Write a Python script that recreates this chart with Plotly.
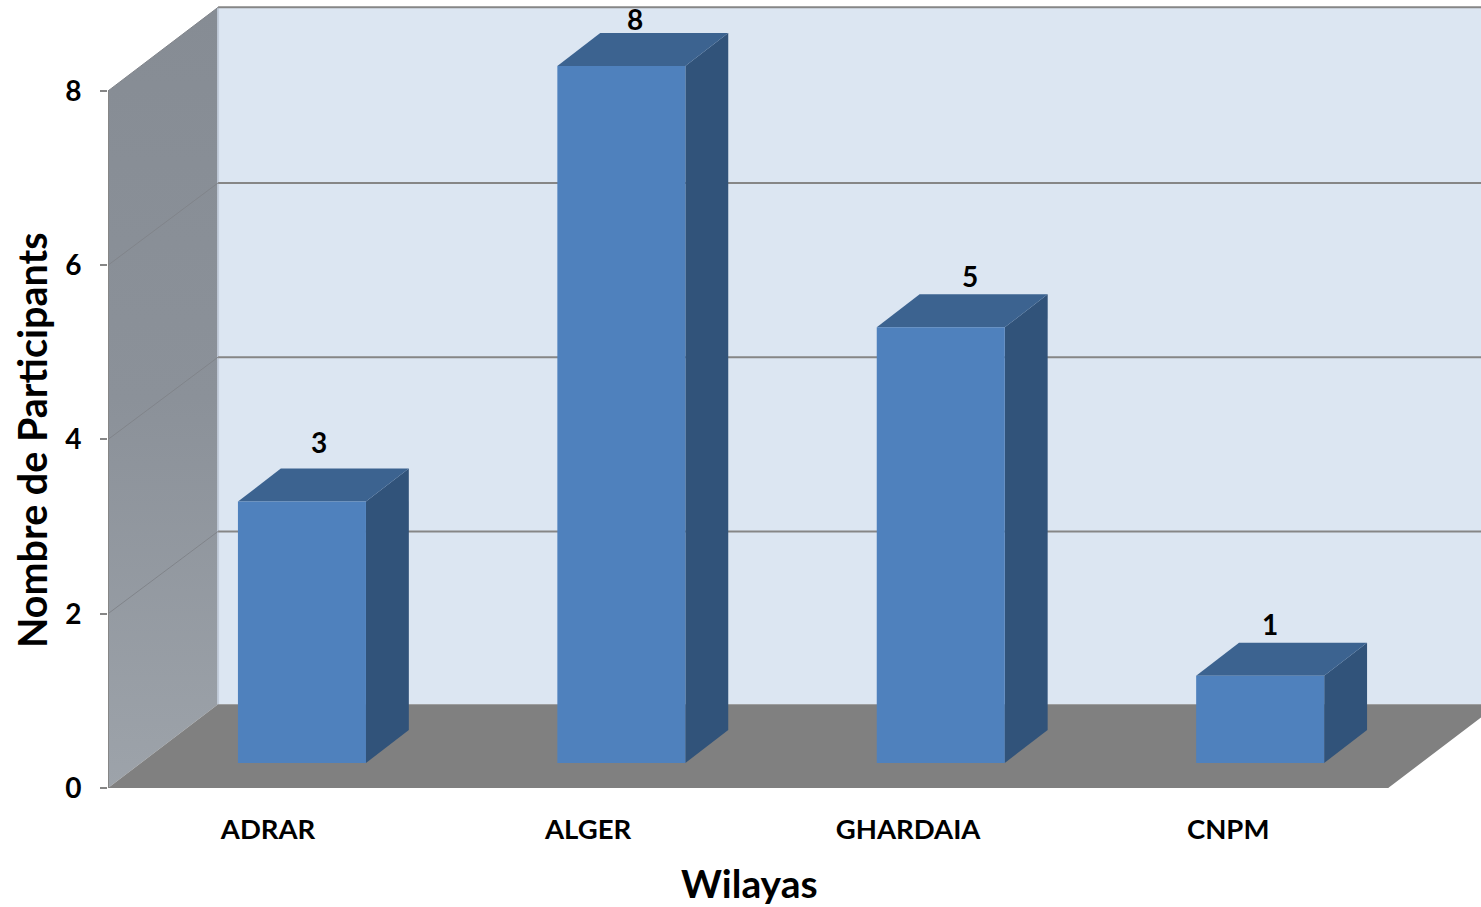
import plotly.graph_objects as go

# valeurs
wilayas = ['ADRAR', 'ALGER', 'GHARDAIA', 'CNPM']
participants = [3, 8, 5, 1]
y_ticks = [0, 2, 4, 6, 8]
label_shift_x = [0.16, 0.147, 0.194, 0.131]
label_shift_y = [0.925, 0.785, 0.835, 0.835]

# profondeur du faux 3D, en unites des axes
wall_dx = 0.344
wall_dy = 0.96
grid_dy = 0.945
bar_step = 0.998
bar_left = -0.094
bar_right = 0.306
bar_base = 0.287
bar_dx = 0.134
bar_dy = 0.379
x_min, x_max = -0.5, 3.79
y_max = 9.044
x_end = 3.5

FONT = 'Lato'


def poly(xs, ys, color):
    return go.Scatter(x=xs, y=ys, mode='lines', fill='toself', fillcolor=color,
                      line=dict(width=0, color=color), hoverinfo='skip', showlegend=False)


def seg(xs, ys, color, width, clip=True):
    return go.Scatter(x=xs, y=ys, mode='lines', line=dict(color=color, width=width),
                      hoverinfo='skip', showlegend=False, cliponaxis=clip)


fig = go.Figure()

# mur du fond
back_l = x_min + wall_dx
fig.add_trace(poly([back_l, x_max + 1, x_max + 1, back_l], [wall_dy, wall_dy, 8 + wall_dy, 8 + wall_dy], '#dce6f2'))

# mur gauche
fig.add_trace(go.Scatter(x=[x_min, back_l, back_l, x_min], y=[0, wall_dy, 8 + wall_dy, 8], mode='lines', fill='toself',
                         line=dict(width=0),
                         fillgradient=dict(type='vertical', colorscale=[[0, '#9da3aa'], [0.5, '#8b9199'], [1, '#868c94']]),
                         hoverinfo='skip', showlegend=False))
fig.add_trace(seg([back_l, back_l], [wall_dy, 8 + wall_dy], '#c3cddb', 2))

# sol
fig.add_trace(poly([x_min, back_l, x_max + 1, x_end + wall_dx, x_end],
                   [0, wall_dy, wall_dy, wall_dy, 0], '#808080'))
fig.add_trace(seg([x_min, x_end], [0, 0], '#808080', 2, clip=False))

# grille
for t in y_ticks[1:]:
    d = wall_dy if t == 8 else grid_dy
    fig.add_trace(seg([back_l, x_max + 1], [t + d, t + d], '#868686', 2))
    fig.add_trace(seg([x_min, back_l], [t, t + d], '#80848a', 1))
fig.add_trace(seg([x_min, x_min], [0, 8], '#868686', 2, clip=False))

# barres
for i, v in enumerate(participants):
    l, r = i * bar_step + bar_left, i * bar_step + bar_right
    b, h = bar_base, bar_base + v
    fig.add_trace(poly([r, r + bar_dx, r + bar_dx, r], [b, b + bar_dy, h + bar_dy, h], '#31537a'))
    fig.add_trace(poly([l, r, r + bar_dx, l + bar_dx], [h, h, h + bar_dy, h + bar_dy], '#3c6390'))
    fig.add_trace(poly([l, r, r, l], [b, b, h, h], '#4f81bd'))

# etiquettes
fig.add_trace(go.Scatter(
    x=[i + s for i, s in enumerate(label_shift_x)],
    y=[v + s for v, s in zip(participants, label_shift_y)],
    mode='text', text=[str(v) for v in participants], textposition='middle center',
    textfont=dict(family=FONT, size=28, color='black', weight='bold'),
    hoverinfo='skip', showlegend=False, cliponaxis=False))

fig.update_xaxes(range=[x_min, x_max], tickmode='array', tickvals=[0, 1, 2, 3], ticktext=wilayas,
                 showgrid=False, zeroline=False, ticks='', ticklabelstandoff=22,
                 tickfont=dict(family=FONT, size=27.5, color='black', weight='bold'))
fig.update_yaxes(range=[0, y_max], tickmode='array', tickvals=y_ticks, showgrid=False, zeroline=False,
                 showline=False, ticks='outside', ticklen=7, tickwidth=2,
                 tickcolor='#868686', ticklabelstandoff=13,
                 tickfont=dict(family=FONT, size=28, color='black', weight='bold'))

fig.add_annotation(text='Wilayas', xref='paper', yref='paper', x=(749 - 108) / 1373, y=(788 - 883) / 788,
                   xanchor='center', yanchor='middle', showarrow=False,
                   font=dict(family=FONT, size=39, color='black', weight='bold'))
fig.add_annotation(text='Nombre de Participants', xref='paper', yref='paper', x=(31 - 108) / 1373, y=(788 - 440) / 788,
                   xanchor='center', yanchor='middle', textangle=-90, showarrow=False,
                   font=dict(family=FONT, size=39.5, color='black', weight='bold'))

fig.update_layout(width=1481, height=907, margin=dict(l=108, r=0, t=0, b=119),
                  paper_bgcolor='white', plot_bgcolor='white', showlegend=False)

# enlever la marge par defaut du body de la page
fig.write_html("out.html", config={'displayModeBar': False},
               post_script="document.body.style.margin = '0';")
